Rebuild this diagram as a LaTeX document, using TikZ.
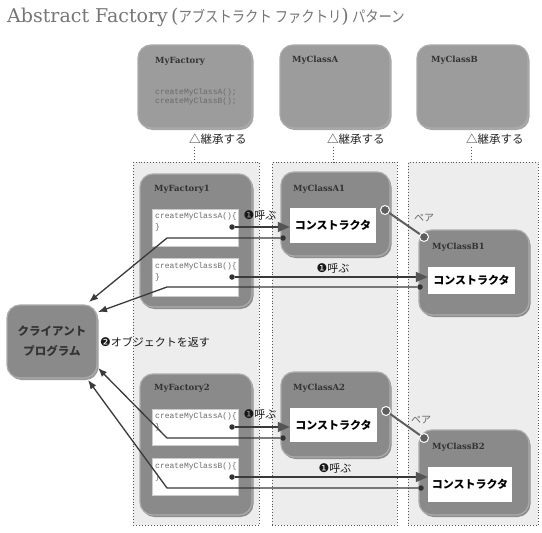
\documentclass[tikz,border=0pt]{standalone}
\usepackage{fontspec}
\usetikzlibrary{shadows,arrows.meta}
\newfontfamily\jp{Noto Sans CJK JP}
\newfontfamily\dv{DejaVu Sans}
\newfontfamily\dvs{DejaVu Serif}
\newfontfamily\mono{Liberation Mono}
\definecolor{regfill}{HTML}{EDEDED}
\definecolor{regline}{HTML}{555555}
\definecolor{topfill}{HTML}{9C9C9C}
\definecolor{boxfill}{HTML}{8A8A8A}
\definecolor{rimcol}{HTML}{ABABAB}
\definecolor{labelcol}{HTML}{333333}
\definecolor{codecol}{HTML}{6A6A6A}
\definecolor{linecol}{HTML}{3A3A3A}
\definecolor{dotcol}{HTML}{333333}
\definecolor{paircol}{HTML}{5E5E5E}
\definecolor{titlecol}{HTML}{767676}
\definecolor{tipcol}{HTML}{555555}
\tikzset{
  region/.style={draw=regline, dotted, line width=0.9pt, fill=regfill, inner sep=0},
  topbox/.style={rounded corners=13pt, fill=topfill, draw=rimcol, line width=1.2pt, inner sep=0,
    drop shadow={shadow xshift=1.5pt, shadow yshift=-2pt, fill=black, opacity=.35}},
  classbox/.style={rounded corners=13pt, fill=boxfill, draw=rimcol, line width=1.2pt, inner sep=0,
    drop shadow={shadow xshift=1.5pt, shadow yshift=-2pt, fill=black, opacity=.4}},
  classlabel/.style={anchor=west, inner sep=0, font=\dvs\bfseries\fontsize{8.5}{10}\selectfont, text=labelcol},
  codetext/.style={anchor=west, inner sep=0, font=\mono\fontsize{8}{9}\selectfont, text=codecol},
  codebox/.style={fill=white, draw=white!80!black, line width=0.3pt, inner sep=0},
  ctor/.style={fill=white, inner sep=0, font=\jp\bfseries\fontsize{11}{13}\selectfont},
  inh/.style={anchor=west, inner sep=0, font=\jp\fontsize{11.5}{13}\selectfont, text=black!85},
  vdots/.style={draw=regline, dotted, line width=0.9pt},
  call/.style={draw=linecol, line width=1.6pt, -{Triangle[length=12pt,width=10pt,color=tipcol]}},
  ret/.style={draw=linecol, line width=1.3pt, -{Latex[length=9pt,width=7pt]}},
  dotn/.style={circle, fill=dotcol, inner sep=0, minimum size=5.5pt},
  pairc/.style={circle, fill=paircol, draw=white, line width=1pt, inner sep=0, minimum size=9pt},
  pairline/.style={draw=paircol, line width=2pt},
  calllbl/.style={inner sep=0, font=\jp\fontsize{11}{13}\selectfont, text=black!90},
  pairlbl/.style={inner sep=0, font=\jp\fontsize{10}{12}\selectfont, text=black!60},
}
\begin{document}
\begin{tikzpicture}[x=1pt,y=-1pt]
\useasboundingbox (0,0) rectangle (542,533);
\fill[white] (0,0) rectangle (542,533);
% title
\node[anchor=west, inner sep=0, text=titlecol] (title) at (7,17)
  {\dvs\fontsize{19}{22}\selectfont Abstract Factory\,(\scalebox{0.86}[1]{\jp\fontsize{15.5}{18}\selectfont アブストラクト ファクトリ})\,\scalebox{0.86}[1]{\jp\fontsize{15.5}{18}\selectfont パターン}};
% regions
\node[region, anchor=north west, minimum width=126pt, minimum height=363pt] (reg1) at (133,162) {};
\node[region, anchor=north west, minimum width=125pt, minimum height=363pt] (reg2) at (272,162) {};
\node[region, anchor=north west, minimum width=130pt, minimum height=363pt] (reg3) at (408,162) {};
% top boxes
\node[topbox, minimum width=114pt, minimum height=83pt] (mf) at (195,86.5) {};
\node[topbox, minimum width=110pt, minimum height=83pt] (mca) at (335,86.5) {};
\node[topbox, minimum width=111pt, minimum height=83pt] (mcb) at (472.5,86.5) {};
\node[classlabel] (mfl) at (155,61) {MyFactory};
\node[codetext] (mfc1) at (155,92) {createMyClassA();};
\node[codetext] (mfc2) at (155,101) {createMyClassB();};
\node[classlabel] (mcal) at (292,60) {MyClassA};
\node[classlabel] (mcbl) at (431,60) {MyClassB};
% inheritance
\node[inh] (i1) at (189,139) {△継承する};
\node[inh] (i2) at (327,139) {△継承する};
\node[inh] (i3) at (466,139) {△継承する};
\coordinate (v1) at (194.5,147);
\coordinate (v2) at (333,147);
\coordinate (v3) at (471.5,147);
\draw[vdots] (v1) -- (v1 |- reg1.north);
\draw[vdots] (v2) -- (v2 |- reg2.north);
\draw[vdots] (v3) -- (v3 |- reg3.north);
% lower boxes
\node[classbox, minimum width=112pt, minimum height=133pt] (f1) at (196,240.5) {};
\node[classbox, minimum width=109pt, minimum height=84pt] (a1) at (335.5,214) {};
\node[classbox, minimum width=110pt, minimum height=85pt] (b1) at (474,272.5) {};
\node[classbox, minimum width=112pt, minimum height=141pt] (f2) at (196,444.5) {};
\node[classbox, minimum width=109pt, minimum height=85pt] (a2) at (335.5,414.5) {};
\node[classbox, minimum width=110pt, minimum height=85pt] (b2) at (474,472.5) {};
\node[classbox, minimum width=90pt, minimum height=73pt, align=center,
  font=\jp\bfseries\fontsize{11.5}{20}\selectfont, text=labelcol] (cl) at (52,341.5) {クライアント\\プログラム};
% class labels
\node[classlabel] (f1l) at (154,189) {MyFactory1};
\node[classlabel] (a1l) at (293,189) {MyClassA1};
\node[classlabel] (b1l) at (432,247) {MyClassB1};
\node[classlabel] (f2l) at (154,388) {MyFactory2};
\node[classlabel] (a2l) at (293,388) {MyClassA2};
\node[classlabel] (b2l) at (432,447) {MyClassB2};
% code boxes
\node[codebox, minimum width=86pt, minimum height=37pt] (f1a) at (195,227.5) {};
\node[codebox, minimum width=86pt, minimum height=38pt] (f1b) at (195,277) {};
\node[codebox, minimum width=86pt, minimum height=36pt] (f2a) at (195,427) {};
\node[codebox, minimum width=86pt, minimum height=37pt] (f2b) at (195,476.5) {};
\node[codetext] (f1a1) at (155,216) {createMyClassA()\{};
\node[codetext] (f1a2) at (155,227) {\}};
\node[codetext] (f1b1) at (155,266) {createMyClassB()\{};
\node[codetext] (f1b2) at (155,277) {\}};
\node[codetext] (f2a1) at (155,416) {createMyClassA()\{};
\node[codetext] (f2a2) at (155,427) {\}};
\node[codetext] (f2b1) at (155,466) {createMyClassB()\{};
\node[codetext] (f2b2) at (155,477) {\}};
% constructors
\node[ctor, minimum width=86pt, minimum height=35pt] (a1c) at (333,225.5) {コンストラクタ};
\node[ctor, minimum width=87pt, minimum height=34pt] (a2c) at (333.5,425) {コンストラクタ};
\node[ctor, minimum width=87pt, minimum height=27pt] (b1c) at (471.5,280.5) {コンストラクタ};
\node[ctor, minimum width=84pt, minimum height=35pt] (b2c) at (470,484.5) {コンストラクタ};
% labels
\node[calllbl] (c1l) at (260,215) {{\dv\fontsize{12}{13}\selectfont ❶}呼ぶ};
\node[calllbl] (c2l) at (333,268) {{\dv\fontsize{12}{13}\selectfont ❶}呼ぶ};
\node[calllbl] (c3l) at (260,414) {{\dv\fontsize{12}{13}\selectfont ❶}呼ぶ};
\node[calllbl] (c4l) at (335,468) {{\dv\fontsize{12}{13}\selectfont ❶}呼ぶ};
\node[pairlbl] (pl1) at (424,218) {ペア};
\node[pairlbl] (pl2) at (421,420) {ペア};
\node[calllbl, anchor=west] (retl) at (100,342) {{\dv\fontsize{12}{13}\selectfont ❷}オブジェクトを返す};
% dots
\node[dotn] (d1) at (232,227) {};
\node[dotn] (d2) at (232,277) {};
\node[dotn] (d3) at (232,427) {};
\node[dotn] (d4) at (232,477) {};
\node[dotn] (r1) at (283,238) {};
\node[dotn] (r2) at (420,287) {};
\node[dotn] (r3) at (283,438) {};
\node[dotn] (r4) at (421,488) {};
\coordinate (bx) at (167,0);
\coordinate (t1) at (89,302);
\coordinate (t2) at (98,312);
\coordinate (t3) at (98,368);
\coordinate (t4) at (88,380);
% connectors
\draw[call] (d1) -- (d1 -| a1c.west);
\draw[call] (d2) -- (d2 -| b1c.west);
\draw[call] (d3) -- (d3 -| a2c.west);
\draw[call] (d4) -- (d4 -| b2c.west);
\draw[ret] (r1) -- (r1 -| bx) -- (t1);
\draw[ret] (r2) -- (r2 -| bx) -- (t2);
\draw[ret] (r3) -- (r3 -| bx) -- (t3);
\draw[ret] (r4) -- (r4 -| bx) -- (t4);
% pairs
\node[pairc] (p1a) at (385,210) {};
\node[pairc] (p1b) at (424,237) {};
\node[pairc] (p2a) at (386,411) {};
\node[pairc] (p2b) at (424,438) {};
\draw[pairline] (p1a) -- (p1b);
\draw[pairline] (p2a) -- (p2b);
\end{tikzpicture}
\end{document}
